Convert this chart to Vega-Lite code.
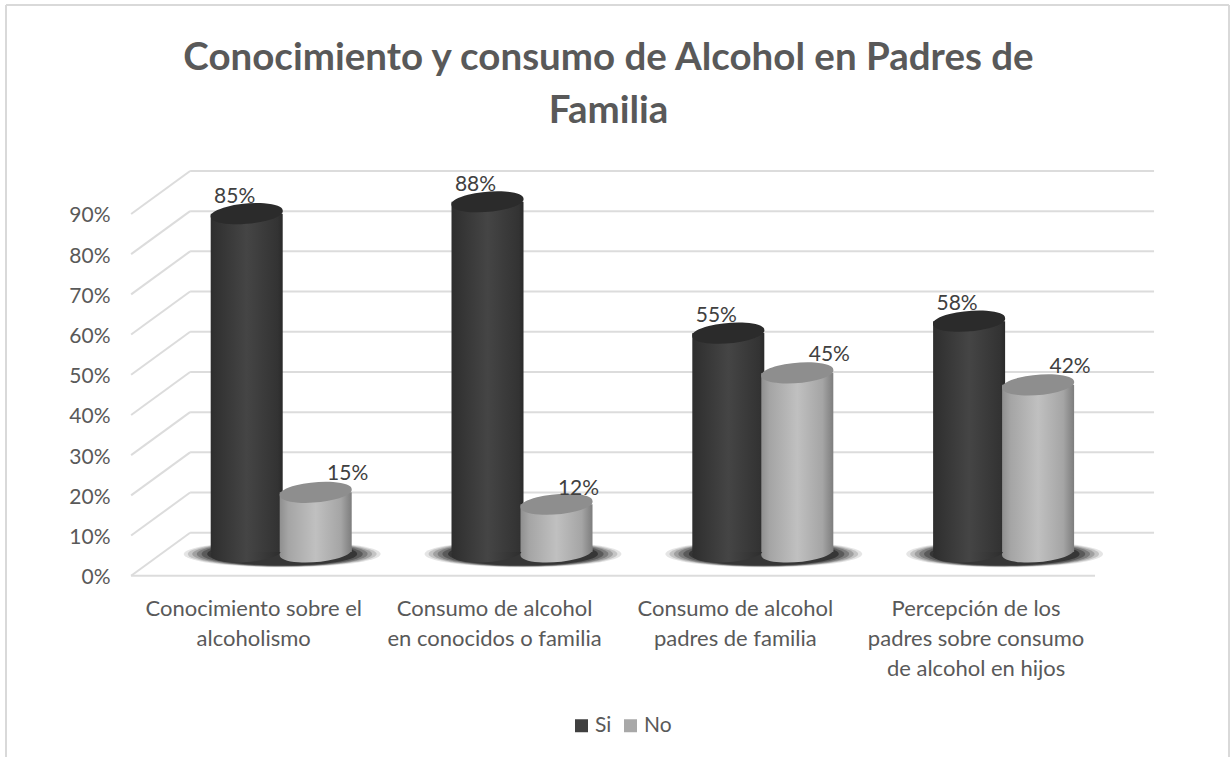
{
  "$schema": "https://vega.github.io/schema/vega-lite/v6.json",
  "width": 1223,
  "height": 752,
  "autosize": "none",
  "padding": {"left": 6, "top": 5, "right": 2, "bottom": 0},
  "background": "white",
  "view": {"stroke": null, "fill": "white"},
  "config": {"font": "Lato", "text": {"font": "Lato"}, "scale": {"continuousPadding": 0}},
  "title": {
    "text": ["Conocimiento y consumo de Alcohol en Padres de", "Familia"],
    "anchor": "middle",
    "frame": "group",
    "font": "Lato",
    "fontSize": 38.5,
    "fontWeight": "bold",
    "color": "#595959",
    "lineHeight": 53,
    "offset": -127,
    "dx": -9
  },
  "datasets": {
    "medidas": [
      {"grupo": 0, "categoria": "Conocimiento sobre el\nalcoholismo", "serie": "Si", "valor": 0.85},
      {"grupo": 0, "categoria": "Conocimiento sobre el\nalcoholismo", "serie": "No", "valor": 0.15},
      {"grupo": 1, "categoria": "Consumo de alcohol\nen conocidos o familia", "serie": "Si", "valor": 0.88},
      {"grupo": 1, "categoria": "Consumo de alcohol\nen conocidos o familia", "serie": "No", "valor": 0.12},
      {"grupo": 2, "categoria": "Consumo de alcohol\npadres de familia", "serie": "Si", "valor": 0.55},
      {"grupo": 2, "categoria": "Consumo de alcohol\npadres de familia", "serie": "No", "valor": 0.45},
      {"grupo": 3, "categoria": "Percepción de los\npadres sobre consumo\nde alcohol en hijos", "serie": "Si", "valor": 0.58},
      {"grupo": 3, "categoria": "Percepción de los\npadres sobre consumo\nde alcohol en hijos", "serie": "No", "valor": 0.42}
    ],
    "niveles": [
      {"nivel": 0.0, "pared": 0.107},
      {"nivel": 0.1, "pared": 0.207},
      {"nivel": 0.2, "pared": 0.307},
      {"nivel": 0.3, "pared": 0.407},
      {"nivel": 0.4, "pared": 0.507},
      {"nivel": 0.5, "pared": 0.607},
      {"nivel": 0.6, "pared": 0.707},
      {"nivel": 0.7, "pared": 0.807},
      {"nivel": 0.8, "pared": 0.907},
      {"nivel": 0.9, "pared": 1.007}
    ]
  },
  "resolve": {"scale": {"y": "independent"}},
  "layer": [
    {
      "mark": {"type": "rule", "color": "#d9d9d9", "strokeWidth": 2},
      "data": {"values": [{"borde": -0.9996}, {"borde": 4.0793}]},
      "encoding": {
        "x": {"field": "borde", "type": "quantitative", "axis": null, "scale": {"domain": [-0.9996, 4.0793], "nice": false, "zero": false}},
        "y": {"datum": -0.4511, "type": "quantitative", "axis": null, "scale": {"domain": [-0.4511, 1.42], "nice": false, "zero": false}},
        "y2": {"datum": 1.42}
      }
    },
    {
      "mark": {"type": "rule", "color": "#d9d9d9", "strokeWidth": 2},
      "data": {"values": [{"borde": 1.42}]},
      "encoding": {
        "x": {"datum": -0.9996, "type": "quantitative", "axis": null, "scale": {"domain": [-0.9996, 4.0793], "nice": false, "zero": false}},
        "x2": {"datum": 4.0793},
        "y": {"field": "borde", "type": "quantitative", "axis": null, "scale": {"domain": [-0.4511, 1.42], "nice": false, "zero": false}}
      }
    },
    {
      "data": {"name": "niveles"},
      "mark": {"type": "rule", "color": "#dcdcdc", "strokeWidth": 2},
      "encoding": {
        "x": {"datum": -0.235, "type": "quantitative", "axis": null, "scale": {"domain": [-0.9996, 4.0793], "nice": false, "zero": false}},
        "x2": {"datum": 3.768},
        "y": {"field": "pared", "type": "quantitative", "axis": null, "scale": {"domain": [-0.4511, 1.42], "nice": false, "zero": false}}
      }
    },
    {
      "data": {"name": "niveles"},
      "mark": {"type": "rule", "color": "#dcdcdc", "strokeWidth": 2},
      "encoding": {
        "x": {"datum": -0.48, "type": "quantitative", "axis": null, "scale": {"domain": [-0.9996, 4.0793], "nice": false, "zero": false}},
        "x2": {"datum": -0.235},
        "y": {
          "field": "nivel",
          "type": "quantitative",
          "scale": {"domain": [-0.4511, 1.42], "nice": false, "zero": false},
          "axis": {
            "values": [0, 0.1, 0.2, 0.3, 0.4, 0.5, 0.6, 0.7, 0.8, 0.9],
            "format": ".0%",
            "title": null,
            "domain": false,
            "ticks": false,
            "grid": false,
            "labelFont": "Lato",
            "labelFontSize": 21,
            "labelColor": "#595959",
            "labelPadding": 0,
            "labelOffset": 2,
            "offset": -104
          }
        },
        "y2": {"field": "pared"}
      }
    },
    {
      "data": {"name": "niveles"},
      "transform": [{"filter": "datum.nivel === 0"}],
      "mark": {"type": "rule", "color": "#dcdcdc", "strokeWidth": 2},
      "encoding": {
        "x": {"datum": -0.48, "type": "quantitative", "axis": null, "scale": {"domain": [-0.9996, 4.0793], "nice": false, "zero": false}},
        "x2": {"datum": 3.523},
        "y": {"field": "nivel", "type": "quantitative", "axis": null, "scale": {"domain": [-0.4511, 1.42], "nice": false, "zero": false}}
      }
    },
    {
      "data": {"name": "medidas"},
      "transform": [{"filter": "datum.serie === 'Si'"}],
      "mark": {"type": "point", "filled": true, "color": "#000000", "opacity": 0.1, "shape": "M-1,0A1,0.135 0 1 1 1,0A1,0.135 0 1 1 -1,0Z", "size": 38800, "xOffset": 35.5, "yOffset": 2},
      "encoding": {
        "x": {"field": "grupo", "type": "quantitative", "axis": null, "scale": {"domain": [-0.9996, 4.0793], "nice": false, "zero": false}},
        "y": {"datum": 0, "type": "quantitative", "axis": null, "scale": {"domain": [-0.5151, 1.3744], "nice": false, "zero": false}}
      }
    },
    {
      "data": {"name": "medidas"},
      "transform": [{"filter": "datum.serie === 'Si'"}],
      "mark": {"type": "point", "filled": true, "color": "#000000", "opacity": 0.14, "shape": "M-1,0A1,0.135 0 1 1 1,0A1,0.135 0 1 1 -1,0Z", "size": 35700, "xOffset": 35.5, "yOffset": 2},
      "encoding": {
        "x": {"field": "grupo", "type": "quantitative", "axis": null, "scale": {"domain": [-0.9996, 4.0793], "nice": false, "zero": false}},
        "y": {"datum": 0, "type": "quantitative", "axis": null, "scale": {"domain": [-0.5151, 1.3744], "nice": false, "zero": false}}
      }
    },
    {
      "data": {"name": "medidas"},
      "transform": [{"filter": "datum.serie === 'Si'"}],
      "mark": {"type": "point", "filled": true, "color": "#000000", "opacity": 0.18, "shape": "M-1,0A1,0.14 0 1 1 1,0A1,0.14 0 1 1 -1,0Z", "size": 32400, "xOffset": 35.5, "yOffset": 2},
      "encoding": {
        "x": {"field": "grupo", "type": "quantitative", "axis": null, "scale": {"domain": [-0.9996, 4.0793], "nice": false, "zero": false}},
        "y": {"datum": 0, "type": "quantitative", "axis": null, "scale": {"domain": [-0.5151, 1.3744], "nice": false, "zero": false}}
      }
    },
    {
      "data": {"name": "medidas"},
      "transform": [{"filter": "datum.serie === 'Si'"}],
      "mark": {"type": "point", "filled": true, "color": "#000000", "opacity": 0.22, "shape": "M-1,0A1,0.145 0 1 1 1,0A1,0.145 0 1 1 -1,0Z", "size": 29200, "xOffset": 35.5, "yOffset": 2},
      "encoding": {
        "x": {"field": "grupo", "type": "quantitative", "axis": null, "scale": {"domain": [-0.9996, 4.0793], "nice": false, "zero": false}},
        "y": {"datum": 0, "type": "quantitative", "axis": null, "scale": {"domain": [-0.5151, 1.3744], "nice": false, "zero": false}}
      }
    },
    {
      "data": {"name": "medidas"},
      "transform": [{"filter": "datum.serie === 'Si'"}],
      "mark": {"type": "point", "filled": true, "color": "#000000", "opacity": 0.28, "shape": "M-1,0A1,0.15 0 1 1 1,0A1,0.15 0 1 1 -1,0Z", "size": 26000, "xOffset": 35.5, "yOffset": 2},
      "encoding": {
        "x": {"field": "grupo", "type": "quantitative", "axis": null, "scale": {"domain": [-0.9996, 4.0793], "nice": false, "zero": false}},
        "y": {"datum": 0, "type": "quantitative", "axis": null, "scale": {"domain": [-0.5151, 1.3744], "nice": false, "zero": false}}
      }
    },
    {
      "data": {"name": "medidas"},
      "transform": [{"filter": "datum.serie === 'Si'"}],
      "mark": {"type": "point", "filled": true, "color": "#000000", "opacity": 0.4, "shape": "M-1,0A1,0.155 0 1 1 1,0A1,0.155 0 1 1 -1,0Z", "size": 22500, "xOffset": 35.5, "yOffset": 2},
      "encoding": {
        "x": {"field": "grupo", "type": "quantitative", "axis": null, "scale": {"domain": [-0.9996, 4.0793], "nice": false, "zero": false}},
        "y": {"datum": 0, "type": "quantitative", "axis": null, "scale": {"domain": [-0.5151, 1.3744], "nice": false, "zero": false}}
      }
    },
    {
      "data": {"name": "medidas"},
      "mark": {
        "type": "point",
        "filled": true,
        "opacity": 1,
        "shape": "M-0.9,0A0.9,0.2 0 1 1 0.9,0A0.9,0.2 0 1 1 -0.9,0Z",
        "size": 1000
      },
      "encoding": {
        "x": {"field": "grupo", "type": "quantitative", "axis": null, "scale": {"domain": [-0.9996, 4.0793], "nice": false, "zero": false}},
        "y": {"datum": 0, "type": "quantitative", "axis": null, "scale": {"domain": [-0.5151, 1.3744], "nice": false, "zero": false}},
        "color": {
          "field": "serie",
          "type": "nominal",
          "scale": {"domain": ["Si", "No"], "range": ["#404040", "#a8a8a8"]},
          "legend": {
            "title": null,
            "orient": "none",
            "legendX": 565,
            "legendY": 710,
            "direction": "horizontal",
            "symbolType": "square",
            "symbolSize": 169,
            "symbolStrokeWidth": 0,
            "labelFont": "Lato",
            "labelFontSize": 21,
            "labelColor": "#595959",
            "labelOffset": 3,
            "columnPadding": 8
          }
        }
      }
    },
    {
      "data": {"name": "medidas"},
      "transform": [{"filter": "datum.serie === 'Si'"}],
      "mark": {
        "type": "point", "filled": true, "opacity": 1,
        "shape": "M-1,0.09A1.005,0.27 -5 1 1 1,-0.09A1.005,0.27 -5 1 1 -1,0.09Z",
        "size": 5184,
        "color": {"gradient": "linear", "x1": 0, "y1": 0, "x2": 1, "y2": 0, "stops": [
          {"offset": 0, "color": "#2e2e2e"}, {"offset": 0.5, "color": "#454545"}, {"offset": 1, "color": "#2c2c2c"}
        ]}
      },
      "encoding": {
        "x": {"field": "grupo", "type": "quantitative", "axis": null, "scale": {"domain": [-0.9996, 4.0793], "nice": false, "zero": false}},
        "y": {"datum": 0, "type": "quantitative", "axis": null, "scale": {"domain": [-0.5151, 1.3744], "nice": false, "zero": false}}
      }
    },
    {
      "data": {"name": "medidas"},
      "transform": [{"filter": "datum.serie === 'Si'"}],
      "mark": {
        "type": "bar", "width": 72, "orient": "vertical",
        "color": {"gradient": "linear", "x1": 0, "y1": 0, "x2": 1, "y2": 0, "stops": [
          {"offset": 0, "color": "#2e2e2e"}, {"offset": 0.5, "color": "#454545"}, {"offset": 0.93, "color": "#333333"}, {"offset": 1, "color": "#2a2a2a"}
        ]}
      },
      "encoding": {
        "x": {"field": "grupo", "type": "quantitative", "axis": null, "scale": {"domain": [-0.9996, 4.0793], "nice": false, "zero": false}},
        "y": {"field": "valor", "type": "quantitative", "axis": null, "scale": {"domain": [-0.5151, 1.3744], "nice": false, "zero": false}},
        "y2": {"datum": 0}
      }
    },
    {
      "data": {"name": "medidas"},
      "transform": [{"filter": "datum.serie === 'Si'"}],
      "mark": {
        "type": "point", "filled": true, "opacity": 1, "color": "#2b2b2b",
        "shape": "M-1,0.09A1.005,0.27 -5 1 1 1,-0.09A1.005,0.27 -5 1 1 -1,0.09Z",
        "size": 5184
      },
      "encoding": {
        "x": {"field": "grupo", "type": "quantitative", "axis": null, "scale": {"domain": [-0.9996, 4.0793], "nice": false, "zero": false}},
        "y": {"field": "valor", "type": "quantitative", "axis": null, "scale": {"domain": [-0.5151, 1.3744], "nice": false, "zero": false}}
      }
    },
    {
      "data": {"name": "medidas"},
      "transform": [{"filter": "datum.serie === 'No'"}],
      "mark": {
        "type": "point", "filled": true, "opacity": 1,
        "shape": "M-1,0.09A1.005,0.27 -5 1 1 1,-0.09A1.005,0.27 -5 1 1 -1,0.09Z",
        "size": 5184,
        "xOffset": 69,
        "color": {"gradient": "linear", "x1": 0, "y1": 0, "x2": 1, "y2": 0, "stops": [
          {"offset": 0, "color": "#8f8f8f"}, {"offset": 0.12, "color": "#a5a5a5"}, {"offset": 0.5, "color": "#c0c0c0"}, {"offset": 0.85, "color": "#a5a5a5"}, {"offset": 1, "color": "#7d7d7d"}
        ]}
      },
      "encoding": {
        "x": {"field": "grupo", "type": "quantitative", "axis": null, "scale": {"domain": [-0.9996, 4.0793], "nice": false, "zero": false}},
        "y": {"datum": 0, "type": "quantitative", "axis": null, "scale": {"domain": [-0.5151, 1.3744], "nice": false, "zero": false}}
      }
    },
    {
      "data": {"name": "medidas"},
      "transform": [{"filter": "datum.serie === 'No'"}],
      "mark": {
        "type": "bar", "width": 72, "orient": "vertical", "xOffset": 69,
        "color": {"gradient": "linear", "x1": 0, "y1": 0, "x2": 1, "y2": 0, "stops": [
          {"offset": 0, "color": "#8f8f8f"}, {"offset": 0.12, "color": "#a5a5a5"}, {"offset": 0.5, "color": "#c0c0c0"}, {"offset": 0.85, "color": "#a5a5a5"}, {"offset": 1, "color": "#7d7d7d"}
        ]}
      },
      "encoding": {
        "x": {"field": "grupo", "type": "quantitative", "axis": null, "scale": {"domain": [-0.9996, 4.0793], "nice": false, "zero": false}},
        "y": {"field": "valor", "type": "quantitative", "axis": null, "scale": {"domain": [-0.5151, 1.3744], "nice": false, "zero": false}},
        "y2": {"datum": 0}
      }
    },
    {
      "data": {"name": "medidas"},
      "transform": [{"filter": "datum.serie === 'No'"}],
      "mark": {
        "type": "point", "filled": true, "opacity": 1, "color": "#8e8e8e",
        "shape": "M-1,0.09A1.005,0.27 -5 1 1 1,-0.09A1.005,0.27 -5 1 1 -1,0.09Z",
        "size": 5184,
        "xOffset": 69
      },
      "encoding": {
        "x": {"field": "grupo", "type": "quantitative", "axis": null, "scale": {"domain": [-0.9996, 4.0793], "nice": false, "zero": false}},
        "y": {"field": "valor", "type": "quantitative", "axis": null, "scale": {"domain": [-0.5151, 1.3744], "nice": false, "zero": false}}
      }
    },
    {
      "data": {"name": "medidas"},
      "transform": [{"filter": "datum.serie === 'Si'"}],
      "mark": {"type": "text", "font": "Lato", "fontSize": 21, "color": "#404040", "baseline": "middle", "dx": -12, "dy": -17},
      "encoding": {
        "x": {"field": "grupo", "type": "quantitative", "axis": null, "scale": {"domain": [-0.9996, 4.0793], "nice": false, "zero": false}},
        "y": {"field": "valor", "type": "quantitative", "axis": null, "scale": {"domain": [-0.5151, 1.3744], "nice": false, "zero": false}},
        "text": {"field": "valor", "type": "quantitative", "format": ".0%"}
      }
    },
    {
      "data": {"name": "medidas"},
      "transform": [{"filter": "datum.serie === 'No' && datum.valor !== 0.12"}],
      "mark": {"type": "text", "font": "Lato", "fontSize": 21, "color": "#404040", "baseline": "middle", "dx": 101, "dy": -18},
      "encoding": {
        "x": {"field": "grupo", "type": "quantitative", "axis": null, "scale": {"domain": [-0.9996, 4.0793], "nice": false, "zero": false}},
        "y": {"field": "valor", "type": "quantitative", "axis": null, "scale": {"domain": [-0.5151, 1.3744], "nice": false, "zero": false}},
        "text": {"field": "valor", "type": "quantitative", "format": ".0%"}
      }
    },
    {
      "data": {"name": "medidas"},
      "transform": [{"filter": "datum.serie === 'No' && datum.valor === 0.12"}],
      "mark": {"type": "text", "font": "Lato", "fontSize": 21, "color": "#404040", "baseline": "middle", "dx": 91, "dy": -15},
      "encoding": {
        "x": {"field": "grupo", "type": "quantitative", "axis": null, "scale": {"domain": [-0.9996, 4.0793], "nice": false, "zero": false}},
        "y": {"field": "valor", "type": "quantitative", "axis": null, "scale": {"domain": [-0.5151, 1.3744], "nice": false, "zero": false}},
        "text": {"field": "valor", "type": "quantitative", "format": ".0%"}
      }
    },
    {
      "data": {"name": "medidas"},
      "transform": [{"filter": "datum.serie === 'Si'"}],
      "mark": {"type": "text", "font": "Lato", "fontSize": 22, "color": "#595959", "align": "center", "baseline": "top", "lineBreak": "\n", "lineHeight": 30, "xOffset": 7},
      "encoding": {
        "x": {"field": "grupo", "type": "quantitative", "axis": null, "scale": {"domain": [-0.9996, 4.0793], "nice": false, "zero": false}},
        "y": {"datum": -0.058, "type": "quantitative", "axis": null, "scale": {"domain": [-0.4511, 1.42], "nice": false, "zero": false}},
        "text": {"field": "categoria", "type": "nominal"}
      }
    }
  ]
}
